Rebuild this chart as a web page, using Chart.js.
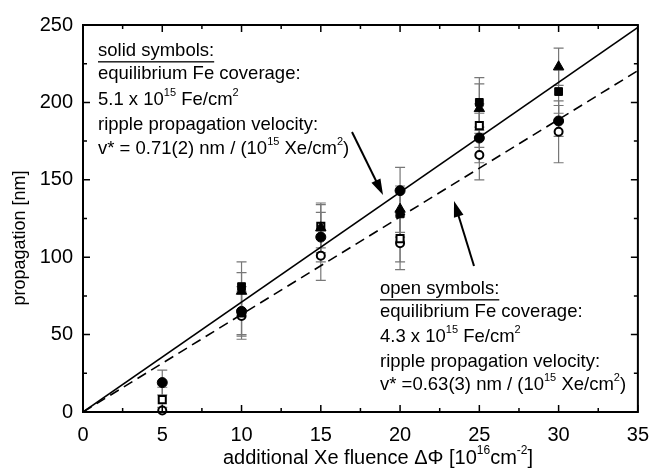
<!DOCTYPE html>
<html>
<head>
<meta charset="utf-8">
<script src="https://cdn.jsdelivr.net/npm/chart.js@4"></script>
<style>
  html, body { margin: 0; padding: 0; background: #fff; }
  canvas { display: block; }
</style>
</head>
<body>
<canvas id="chart" width="660" height="475"></canvas>
<script>
// fluence values where samples were measured
const xValues = [5, 10, 15, 20, 25, 30]

// solid symbols
const solidSquare   = [null, 81, null, 128, 200, 207]
const solidCircle   = [19, 65, 113, 143, 177, 188]
const solidTriangle = [null, 78, 119, 131, 196, 223]
// open symbols
const openSquare = [8, 64, 120, 112, 185, null]
const openCircle = [1, 62, 101, 109, 166, 181]

// error bars (+/-)
const solidSquareErr   = [0, 16, 0, 15, 16, 14]
const solidCircleErr   = [8, 16, 16, 15, 16, 10]
const solidTriangleErr = [0, 12, 16, 15, 16, 12]
const openSquareErr    = [8, 14, 14, 15, 14, 0]
const openCircleErr    = [2, 15, 16, 17, 16, 20]

// linear fits
const fitX = [0, 35]
const solidFit = [0, 248.5]
const openFit  = [0, 220.5]

// axes
const xTicks = [0, 5, 10, 15, 20, 25, 30, 35]
const yTicks = [0, 50, 100, 150, 200, 250]

const FONT = '"Liberation Sans", Arial, sans-serif'

const toPoints = (xs, ys) => xs.map((x, i) => ys[i] == null ? null : {x, y: ys[i]}).filter(p => p)
const toErr = (ys, errs) => ys.map((y, i) => y == null ? null : errs[i]).filter(e => e !== null)

const markerSet = (label, values, errs, style, filled, radius) => ({
  type: 'scatter',
  label,
  data: toPoints(xValues, values),
  errors: toErr(values, errs),
  pointStyle: style,
  pointRadius: radius,
  pointBackgroundColor: filled ? '#000' : '#fff',
  pointBorderColor: '#000',
  pointBorderWidth: filled ? 1 : 2,
  showLine: false,
  clip: 6
})

const lineSet = (label, ys, dash) => ({
  type: 'line',
  label,
  data: toPoints(fitX, ys),
  borderColor: '#000',
  borderWidth: 1.6,
  borderDash: dash,
  pointRadius: 0,
  fill: false,
  tension: 0,
  order: 10
})

// draws text with superscript parts
function drawRich(ctx, x, y, parts, size, align) {
  const supSize = Math.round(size * 0.6)
  const widthOf = p => { ctx.font = (p.sup ? supSize : size) + 'px ' + FONT; return ctx.measureText(p.t).width }
  const total = parts.reduce((s, p) => s + widthOf(p), 0)
  let cx = align === 'center' ? x - total / 2 : x
  ctx.textBaseline = 'middle'
  ctx.textAlign = 'left'
  parts.forEach(p => {
    ctx.font = (p.sup ? supSize : size) + 'px ' + FONT
    ctx.fillText(p.t, cx, p.sup ? y - size * 0.38 : y)
    const w = ctx.measureText(p.t).width
    if (p.u) {
      ctx.fillRect(cx, y + size * 0.55, w, 1.3)
    }
    cx += w
  })
}

function arrow(ctx, x1, y1, x2, y2) {
  const a = Math.atan2(y2 - y1, x2 - x1)
  const hl = 16, hw = 5
  ctx.beginPath()
  ctx.moveTo(x1, y1)
  ctx.lineTo(x2 - hl * 0.8 * Math.cos(a), y2 - hl * 0.8 * Math.sin(a))
  ctx.lineWidth = 2
  ctx.strokeStyle = '#000'
  ctx.stroke()
  ctx.beginPath()
  ctx.moveTo(x2, y2)
  ctx.lineTo(x2 - hl * Math.cos(a) + hw * Math.sin(a), y2 - hl * Math.sin(a) - hw * Math.cos(a))
  ctx.lineTo(x2 - hl * Math.cos(a) - hw * Math.sin(a), y2 - hl * Math.sin(a) + hw * Math.cos(a))
  ctx.closePath()
  ctx.fillStyle = '#000'
  ctx.fill()
}

// error bars below the markers
const errorBars = {
  id: 'errorBars',
  beforeDatasetsDraw(chart) {
    const {ctx, scales: {x, y}} = chart
    ctx.save()
    ctx.strokeStyle = '#777'
    ctx.lineWidth = 1.2
    chart.data.datasets.forEach(ds => {
      if (!ds.errors) return
      ds.data.forEach((p, i) => {
        const e = ds.errors[i]
        if (!e) return
        const px = x.getPixelForValue(p.x)
        const top = y.getPixelForValue(p.y + e)
        const bot = y.getPixelForValue(Math.max(p.y - e, 0))
        ctx.beginPath()
        ctx.moveTo(px, top); ctx.lineTo(px, bot)
        ctx.moveTo(px - 5, top); ctx.lineTo(px + 5, top)
        ctx.moveTo(px - 5, bot); ctx.lineTo(px + 5, bot)
        ctx.stroke()
      })
    })
    ctx.restore()
  }
}

// frame, inward ticks, titles and notes
const decorations = {
  id: 'decorations',
  afterDraw(chart) {
    const {ctx, chartArea: a, scales: {x, y}} = chart
    ctx.save()
    ctx.strokeStyle = '#000'
    ctx.lineWidth = 2
    ctx.strokeRect(a.left, a.top, a.right - a.left, a.bottom - a.top)
    ctx.lineWidth = 1.5
    ctx.beginPath()
    for (let v = 0; v <= 35; v += 2.5) {
      const px = x.getPixelForValue(v)
      const len = v % 5 === 0 ? 7 : 4
      ctx.moveTo(px, a.bottom); ctx.lineTo(px, a.bottom - len)
      ctx.moveTo(px, a.top); ctx.lineTo(px, a.top + len)
    }
    for (let v = 0; v <= 250; v += 25) {
      const py = y.getPixelForValue(v)
      const len = v % 50 === 0 ? 7 : 4
      ctx.moveTo(a.left, py); ctx.lineTo(a.left + len, py)
      ctx.moveTo(a.right, py); ctx.lineTo(a.right - len, py)
    }
    ctx.stroke()

    ctx.fillStyle = '#000'
    // axis titles
    drawRich(ctx, 378, 458, [{t: 'additional Xe fluence \u0394\u03A6 [10'}, {t: '16', sup: true}, {t: 'cm'}, {t: '-2', sup: true}, {t: ']'}], 20, 'center')
    ctx.save()
    ctx.translate(20, 238)
    ctx.rotate(-Math.PI / 2)
    drawRich(ctx, 0, 0, [{t: 'propagation [nm]'}], 18, 'center')
    ctx.restore()

    // notes
    const fs = 18.5
    drawRich(ctx, 98, 51, [{t: 'solid symbols:', u: true}], fs)
    drawRich(ctx, 98, 74, [{t: 'equilibrium Fe coverage:'}], fs)
    drawRich(ctx, 98, 100, [{t: '5.1 x 10'}, {t: '15', sup: true}, {t: ' Fe/cm'}, {t: '2', sup: true}], fs)
    drawRich(ctx, 98, 125, [{t: 'ripple propagation velocity:'}], fs)
    drawRich(ctx, 98, 149, [{t: 'v* = 0.71(2) nm / (10'}, {t: '15', sup: true}, {t: ' Xe/cm'}, {t: '2', sup: true}, {t: ')'}], fs)

    drawRich(ctx, 380, 289, [{t: 'open symbols:', u: true}], fs)
    drawRich(ctx, 380, 312, [{t: 'equilibrium Fe coverage:'}], fs)
    drawRich(ctx, 380, 337, [{t: '4.3 x 10'}, {t: '15', sup: true}, {t: ' Fe/cm'}, {t: '2', sup: true}], fs)
    drawRich(ctx, 380, 362, [{t: 'ripple propagation velocity:'}], fs)
    drawRich(ctx, 380, 385, [{t: 'v* =0.63(3) nm / (10'}, {t: '15', sup: true}, {t: ' Xe/cm'}, {t: '2', sup: true}, {t: ')'}], fs)

    arrow(ctx, 352, 132, 383, 195)
    arrow(ctx, 474, 266, 454, 201)
    ctx.restore()
  }
}

new Chart(document.getElementById('chart'), {
  data: {
    datasets: [
      markerSet('solid square', solidSquare, solidSquareErr, 'rect', true, 5.5),
      markerSet('solid triangle', solidTriangle, solidTriangleErr, 'triangle', true, 6),
      markerSet('solid circle', solidCircle, solidCircleErr, 'circle', true, 5),
      markerSet('open square', openSquare, openSquareErr, 'rect', false, 5),
      markerSet('open circle', openCircle, openCircleErr, 'circle', false, 4),
      lineSet('solid fit', solidFit, []),
      lineSet('open fit', openFit, [10, 6])
    ]
  },
  options: {
    responsive: false,
    animation: false,
    layout: { padding: { top: 25, right: 18, left: 0, bottom: 0 } },
    plugins: { legend: { display: false }, tooltip: { enabled: false } },
    scales: {
      x: {
        type: 'linear', min: 0, max: 35,
        afterBuildTicks: s => { s.ticks = xTicks.map(v => ({value: v})) },
        afterFit: s => { s.height = 63 },
        grid: { display: false, drawTicks: false },
        border: { display: false },
        ticks: { color: '#000', padding: 11, font: { family: FONT, size: 20 } }
      },
      y: {
        type: 'linear', min: 0, max: 250,
        afterBuildTicks: s => { s.ticks = yTicks.map(v => ({value: v})) },
        afterFit: s => { s.width = 83 },
        grid: { display: false, drawTicks: false },
        border: { display: false },
        ticks: { color: '#000', padding: 10, font: { family: FONT, size: 20 } }
      }
    }
  },
  plugins: [errorBars, decorations]
})
</script>
</body>
</html>
